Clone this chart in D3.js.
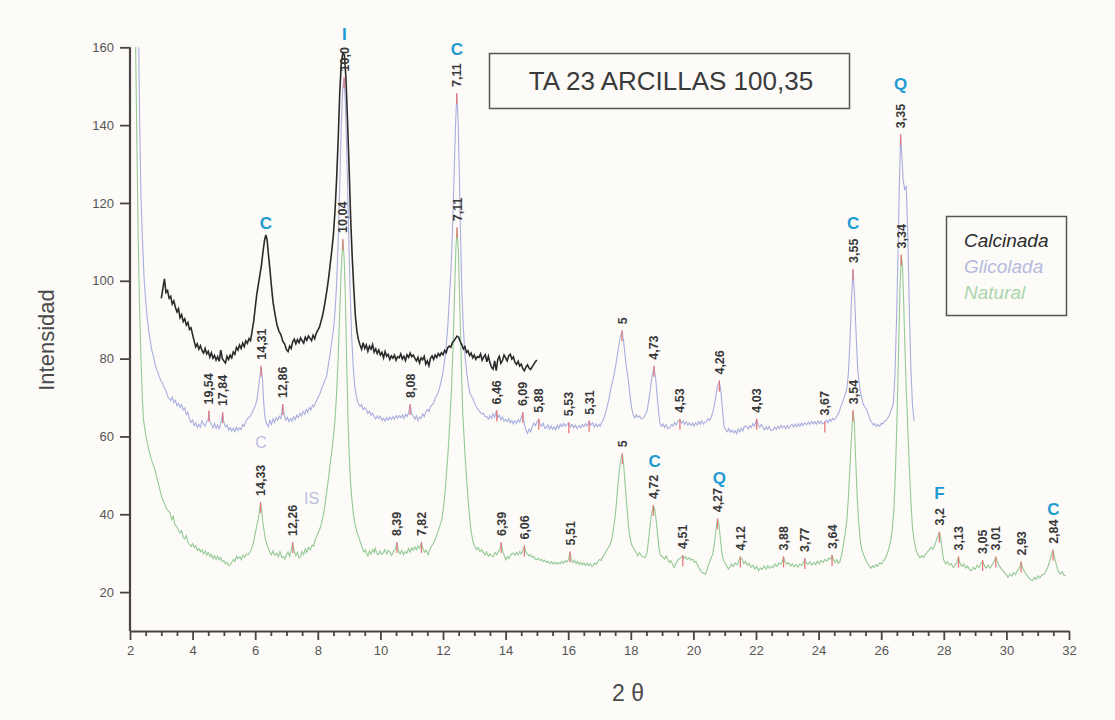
<!DOCTYPE html>
<html><head><meta charset="utf-8">
<script src="https://cdn.jsdelivr.net/npm/d3@7"></script>
<style>body{margin:0;background:#fcfbf8}svg{display:block}</style>
</head><body><svg id="c" width="1115" height="720"></svg>
<script>
// ---- data: [2θ, intensity] ----
const calcinada = [[3.0,95.5],[3.05,98],[3.1,100.5],[3.15,97],[3.2,97.5],[3.25,95.5],[3.3,96],[3.35,94],[3.4,94.8],[3.45,93.2],[3.5,92],[3.55,92.8],[3.6,90.5],[3.65,91.3],[3.7,89.5],[3.75,90.2],[3.8,88.6],[3.85,89.3],[3.9,87.5],[3.95,87.9],[4.0,86.2],[4.05,84.5],[4.1,83],[4.15,83.8],[4.2,82.4],[4.25,83.3],[4.3,82.1],[4.35,81.4],[4.4,82.6],[4.45,81.2],[4.5,81.9],[4.55,80.4],[4.6,81.5],[4.65,80.1],[4.7,80.8],[4.75,79.6],[4.8,80.5],[4.85,79.3],[4.9,82.2],[4.95,80],[5.0,79.4],[5.05,78.9],[5.1,80.6],[5.15,79.8],[5.2,80.9],[5.25,80.2],[5.3,81.7],[5.35,81.1],[5.4,82.9],[5.45,82.2],[5.5,83.5],[5.55,82.6],[5.6,84],[5.65,83.1],[5.7,84.6],[5.75,83.9],[5.8,85.1],[5.85,84.6],[5.9,87],[5.95,89.5],[6.0,93],[6.05,96.5],[6.1,99],[6.15,101.5],[6.2,104],[6.25,107.5],[6.3,110.5],[6.34,111.8],[6.38,110.5],[6.42,107],[6.47,103],[6.52,98.5],[6.57,94.5],[6.63,91.5],[6.7,88.5],[6.76,87],[6.82,86.2],[6.88,84.5],[6.94,83.8],[7.0,82.3],[7.05,81.8],[7.1,83.2],[7.15,82.6],[7.2,84.4],[7.25,85],[7.3,83.8],[7.35,84.9],[7.4,84.1],[7.45,85.3],[7.5,84.6],[7.55,84],[7.6,85.5],[7.65,84.7],[7.7,85.8],[7.75,85.2],[7.8,84.6],[7.85,86],[7.9,85.1],[7.95,86.5],[8.0,87.3],[8.05,88],[8.1,89.5],[8.15,91],[8.2,93],[8.25,95.5],[8.3,98],[8.35,101],[8.4,104.5],[8.45,108],[8.5,112],[8.55,118],[8.6,126],[8.65,136],[8.7,148],[8.75,156],[8.8,158.5],[8.85,158],[8.9,152],[8.95,141],[9.0,129],[9.05,116],[9.1,106],[9.15,98],[9.2,91],[9.25,87],[9.3,84.8],[9.35,83.5],[9.4,82.4],[9.45,84.1],[9.5,82.6],[9.55,83.5],[9.6,81.9],[9.65,83.2],[9.7,82.4],[9.75,83.6],[9.8,81.7],[9.85,82.5],[9.9,81.3],[9.95,82.2],[10.0,80.9],[10.05,81.6],[10.1,80.2],[10.15,81.8],[10.2,80.6],[10.25,81.1],[10.3,79.8],[10.35,80.7],[10.4,80.1],[10.45,80.9],[10.5,79.6],[10.55,80.5],[10.6,80.2],[10.65,81.2],[10.7,79.9],[10.75,80.6],[10.8,79.5],[10.85,81],[10.9,80.3],[10.95,81.4],[11.0,80.5],[11.05,80.9],[11.1,80.1],[11.15,79.4],[11.2,80.3],[11.25,78.9],[11.3,80.2],[11.35,79.7],[11.4,80.6],[11.45,78.6],[11.5,79.4],[11.55,78.2],[11.6,80.1],[11.65,80.7],[11.7,79.8],[11.75,80.9],[11.8,80.3],[11.85,81.3],[11.9,80.7],[11.95,81.5],[12.0,81],[12.05,82.1],[12.1,81.5],[12.15,82.8],[12.2,83.2],[12.25,82.9],[12.3,84.1],[12.35,84.6],[12.4,85.2],[12.45,85.8],[12.5,85.5],[12.55,84.4],[12.6,83.6],[12.65,82.5],[12.7,83.1],[12.75,81.6],[12.8,82],[12.85,80.8],[12.9,81.4],[12.95,80.2],[13.0,80.9],[13.05,79.8],[13.1,80.5],[13.15,80.3],[13.2,81.2],[13.25,79.6],[13.3,80.4],[13.35,81],[13.4,79.2],[13.45,80.6],[13.5,78.9],[13.55,77.8],[13.6,77.3],[13.65,79.4],[13.7,76.9],[13.75,79.8],[13.8,80.6],[13.85,78.8],[13.9,79.5],[13.95,80.9],[14.0,80.2],[14.05,79.4],[14.1,80.7],[14.15,81.1],[14.2,79.9],[14.25,80.4],[14.3,79],[14.35,78.5],[14.4,79.3],[14.45,78.1],[14.5,78.6],[14.55,77.4],[14.6,76.9],[14.65,77.8],[14.7,78.4],[14.75,77.6],[14.8,77.2],[14.85,77.9],[14.9,78.5],[14.95,79.2],[15.0,79.6]];

const glicolada = [[2.28,160],[2.31,140],[2.35,122],[2.4,110],[2.45,100.5],[2.5,95],[2.55,90.5],[2.6,87],[2.65,84.5],[2.7,82],[2.75,80.5],[2.8,78.6],[2.85,77.2],[2.9,76.3],[2.95,75],[3.0,74.2],[3.05,73.5],[3.1,72.4],[3.15,71.8],[3.2,70.3],[3.25,69.8],[3.3,69.2],[3.35,70.1],[3.4,68.7],[3.45,69.3],[3.5,67.9],[3.55,68.5],[3.6,67.4],[3.65,68.2],[3.7,66.8],[3.75,67.3],[3.8,65.6],[3.85,66.2],[3.9,64.4],[3.95,63.6],[4.0,64.2],[4.05,62.8],[4.1,63.5],[4.15,62.3],[4.2,63.1],[4.25,62.4],[4.3,64],[4.35,63.2],[4.4,62.6],[4.45,63.8],[4.5,64.5],[4.52,66.4],[4.55,63.9],[4.6,63.1],[4.65,62.2],[4.7,63.3],[4.75,62.1],[4.8,62.9],[4.85,62],[4.9,63.4],[4.96,66],[5.0,63.6],[5.05,62.5],[5.1,62.9],[5.15,61.6],[5.2,62.3],[5.25,61.4],[5.3,62.1],[5.35,61.2],[5.4,62.4],[5.45,61.5],[5.5,62.2],[5.55,61.8],[5.6,63.1],[5.65,62.6],[5.7,63.9],[5.75,64.5],[5.8,64.9],[5.85,65.3],[5.9,66.1],[5.95,67],[6.0,67.9],[6.05,69.2],[6.1,72],[6.15,75.5],[6.19,77.9],[6.23,75],[6.27,69],[6.31,65],[6.36,63.4],[6.42,62.5],[6.47,64.2],[6.52,63.1],[6.57,64.5],[6.62,63.6],[6.67,64.9],[6.72,64.1],[6.77,65.2],[6.82,64.6],[6.88,68.1],[6.93,65.3],[6.98,64.2],[7.03,64.9],[7.08,63.8],[7.13,64.6],[7.18,63.9],[7.23,65.1],[7.28,64.3],[7.33,65.5],[7.38,64.8],[7.43,66],[7.48,65.2],[7.53,66.4],[7.58,65.7],[7.63,66.9],[7.68,66.2],[7.73,67.5],[7.78,66.8],[7.83,68],[7.88,67.6],[7.93,68.8],[7.98,69.5],[8.03,70.4],[8.08,71.2],[8.13,72.5],[8.18,73.4],[8.23,74.6],[8.28,75.4],[8.33,78],[8.38,80.5],[8.43,83.5],[8.5,87.4],[8.55,92],[8.6,99],[8.65,110],[8.7,124],[8.75,140],[8.8,150],[8.84,152],[8.88,146],[8.93,132],[8.98,114],[9.03,98],[9.08,86],[9.13,78],[9.18,73],[9.24,70],[9.3,68.3],[9.35,67.7],[9.4,68.2],[9.45,66.9],[9.5,67.4],[9.56,66.8],[9.6,65.9],[9.65,66.5],[9.7,65.4],[9.75,66],[9.8,65.1],[9.85,64.5],[9.9,65.3],[9.95,64.6],[10.0,65.2],[10.05,64.1],[10.1,64.7],[10.15,63.9],[10.2,64.8],[10.25,64.2],[10.3,65],[10.35,64.3],[10.4,65.1],[10.45,64.4],[10.5,65.3],[10.55,64.7],[10.6,65.4],[10.65,64.8],[10.7,65.5],[10.75,64.6],[10.8,65.7],[10.85,65.1],[10.9,66],[10.95,68.1],[11.0,65.8],[11.05,65.2],[11.1,64.4],[11.15,65.3],[11.2,64.1],[11.25,65],[11.3,64.6],[11.35,65.8],[11.4,65.1],[11.45,66.2],[11.5,66.9],[11.55,66.4],[11.6,67.6],[11.65,68.1],[11.7,68.6],[11.75,69.8],[11.8,70.5],[11.85,71.4],[11.9,72.8],[11.95,74.5],[12.0,76.5],[12.05,79.5],[12.1,83],[12.15,88],[12.2,95],[12.25,102],[12.3,112],[12.35,126],[12.4,140],[12.44,148],[12.48,142],[12.52,128],[12.56,112],[12.6,98],[12.65,88],[12.7,81],[12.76,76.3],[12.81,73.2],[12.86,71.1],[12.92,70.2],[12.97,69.4],[13.02,68.3],[13.07,67.5],[13.13,66.8],[13.18,66.4],[13.23,65.8],[13.29,66],[13.34,65.2],[13.4,65.1],[13.45,64.4],[13.5,65.3],[13.55,64.6],[13.6,65.8],[13.65,64.9],[13.7,66.4],[13.75,64.8],[13.8,65.5],[13.85,64.3],[13.9,65],[13.95,63.9],[14.0,64.4],[14.05,63.8],[14.1,64.6],[14.15,63.5],[14.2,64.1],[14.25,63.2],[14.3,64],[14.35,63.4],[14.4,64.3],[14.45,63.7],[14.5,64.8],[14.55,66],[14.6,63.2],[14.65,61.6],[14.7,60.8],[14.75,61.9],[14.8,61.2],[14.85,62.5],[14.9,63.4],[14.95,62.8],[15.0,63.7],[15.06,64.3],[15.1,63.1],[15.15,62.6],[15.2,63.4],[15.25,62.1],[15.3,62.2],[15.35,63],[15.4,61.9],[15.45,62.7],[15.5,61.8],[15.55,62.4],[15.6,61.7],[15.65,62.9],[15.7,62.1],[15.75,63.2],[15.8,62.5],[15.85,63.4],[15.9,62.6],[15.95,63.1],[16.02,63.4],[16.07,62.4],[16.12,63.1],[16.18,62.2],[16.23,62.9],[16.29,62],[16.35,62.8],[16.4,62.2],[16.45,63.1],[16.5,62.5],[16.55,63.3],[16.6,62.7],[16.67,63.8],[16.72,62.9],[16.78,63.5],[16.83,62.4],[16.88,63.2],[16.93,62.5],[16.98,63.1],[17.02,62.6],[17.07,63.5],[17.12,64.2],[17.17,65.4],[17.22,66.8],[17.27,68.5],[17.32,70.4],[17.37,72.6],[17.42,74.2],[17.47,76],[17.52,78.3],[17.57,81],[17.62,83.5],[17.67,85.8],[17.72,87],[17.77,84.5],[17.82,80.5],[17.87,77.2],[17.92,74.5],[17.97,70.8],[18.02,67.6],[18.08,65.5],[18.13,64.8],[18.18,65.6],[18.23,64.9],[18.28,65.3],[18.33,64.5],[18.4,64.7],[18.45,65.4],[18.52,66.5],[18.58,69.5],[18.63,72.5],[18.68,75.5],[18.74,77.9],[18.79,75.2],[18.84,70.6],[18.89,66.2],[18.93,63.4],[18.98,62.6],[19.03,63.2],[19.08,62.3],[19.13,63],[19.18,62.1],[19.25,62.2],[19.3,63.1],[19.35,62.7],[19.4,63.6],[19.45,62.9],[19.5,63.8],[19.57,64.3],[19.62,63.4],[19.67,64],[19.72,63.1],[19.77,63.8],[19.82,62.9],[19.87,63.5],[19.92,62.8],[19.97,63.4],[20.02,62.6],[20.07,63.5],[20.12,62.9],[20.17,63.9],[20.22,63.1],[20.27,64],[20.32,63.2],[20.37,63.7],[20.42,63.8],[20.47,64.6],[20.52,64.1],[20.57,65],[20.62,66.2],[20.68,68.5],[20.73,71],[20.78,73.2],[20.83,74.1],[20.88,71.5],[20.93,66.8],[20.98,62.6],[21.03,61.7],[21.08,61.2],[21.13,62],[21.18,61.1],[21.23,61.6],[21.28,60.9],[21.33,61.5],[21.38,60.7],[21.43,61.9],[21.48,61.2],[21.53,62.1],[21.58,61.4],[21.63,62.6],[21.7,62.6],[21.75,61.9],[21.8,62.8],[21.85,62.2],[21.9,63.3],[21.95,62.7],[22.02,64.3],[22.07,63],[22.12,62.4],[22.17,63.1],[22.22,62.3],[22.27,61.7],[22.32,62.5],[22.37,61.8],[22.42,62.6],[22.47,61.5],[22.55,61.7],[22.6,62.4],[22.65,61.8],[22.7,62.6],[22.75,62],[22.8,62.9],[22.85,62.2],[22.9,62.7],[22.95,61.9],[23.0,62.8],[23.05,62.1],[23.09,62.6],[23.15,63.1],[23.2,62.4],[23.25,63.2],[23.3,62.5],[23.35,63.3],[23.4,62.6],[23.45,63.4],[23.5,62.8],[23.55,63.5],[23.62,63],[23.67,63.7],[23.72,63.1],[23.78,63.9],[23.83,63.2],[23.88,63.8],[23.93,63.1],[23.98,64],[24.03,63.3],[24.08,63.9],[24.13,63.2],[24.2,63.6],[24.25,64.2],[24.3,63.5],[24.35,64.4],[24.4,63.9],[24.45,64.7],[24.5,64.2],[24.55,64.8],[24.6,65.4],[24.65,66.2],[24.7,67.4],[24.75,68.5],[24.8,69.6],[24.85,70.8],[24.9,72],[24.95,76],[25.0,84],[25.05,95],[25.1,102.8],[25.15,96],[25.2,86],[25.25,77],[25.32,72],[25.37,70.2],[25.42,68.4],[25.48,67.5],[25.54,66.8],[25.6,65.4],[25.65,64.2],[25.7,63.6],[25.75,62.9],[25.8,63.3],[25.85,62.5],[25.9,63.1],[25.95,62.6],[26.0,63.4],[26.05,63.2],[26.1,63.9],[26.15,64.1],[26.2,64.6],[26.25,65.3],[26.3,66.4],[26.35,67.5],[26.39,68.6],[26.44,76],[26.49,90],[26.54,108],[26.58,125],[26.62,137.4],[26.66,132],[26.7,126],[26.75,123.5],[26.8,124.2],[26.85,112],[26.9,92],[26.95,77],[27.0,68],[27.05,64]];

const natural = [[2.18,160],[2.22,135],[2.26,112],[2.3,95],[2.35,80],[2.4,69],[2.43,64.3],[2.5,60.5],[2.58,57.4],[2.65,55],[2.72,53.2],[2.8,51.4],[2.86,49.3],[2.92,47.4],[2.97,45.8],[3.01,44.6],[3.06,43.4],[3.11,42.6],[3.16,41.5],[3.22,40.9],[3.28,40.3],[3.33,38.6],[3.38,39.5],[3.43,37.4],[3.48,36.9],[3.54,36.1],[3.6,35.2],[3.65,35.8],[3.7,34.1],[3.75,33.7],[3.8,34.5],[3.85,32.8],[3.9,32.3],[3.95,31.7],[4.0,32.4],[4.05,31.5],[4.1,31.9],[4.15,30.7],[4.2,31.2],[4.25,30.4],[4.3,30.9],[4.35,29.8],[4.4,30.6],[4.45,29.5],[4.5,30.2],[4.56,29.1],[4.6,29.7],[4.65,28.6],[4.7,29.4],[4.75,28.4],[4.8,29.2],[4.85,28.3],[4.9,28.9],[4.95,27.8],[5.0,28.1],[5.05,27.2],[5.1,27.7],[5.15,26.8],[5.2,27],[5.25,27.6],[5.3,28.4],[5.35,27.9],[5.4,29.2],[5.45,28.6],[5.51,29.1],[5.56,28.3],[5.61,29.5],[5.66,28.9],[5.71,29.7],[5.78,29.6],[5.84,30.4],[5.9,31.5],[5.94,32.6],[5.98,34.2],[6.02,35.8],[6.06,37.5],[6.1,38.6],[6.14,41],[6.17,42.9],[6.21,41],[6.25,37.5],[6.28,36],[6.33,33.4],[6.38,32.1],[6.42,31.3],[6.47,30.2],[6.52,29.6],[6.57,30.6],[6.62,29.4],[6.69,30],[6.74,29.1],[6.79,30.4],[6.85,28.9],[6.9,29.1],[6.95,28.5],[7.0,29.6],[7.05,30.3],[7.1,29.2],[7.15,30.8],[7.2,32.6],[7.25,30.5],[7.3,29.4],[7.35,30.2],[7.4,28.8],[7.45,29.1],[7.5,30.5],[7.55,29.6],[7.6,31.1],[7.65,30.2],[7.7,31.5],[7.76,30.9],[7.82,32.1],[7.87,31.8],[7.91,33.4],[7.96,34.2],[8.01,35.2],[8.06,36.1],[8.12,37.7],[8.17,39.5],[8.22,41.8],[8.28,45.4],[8.33,48.5],[8.38,52],[8.44,55.7],[8.5,60],[8.55,64.3],[8.6,71],[8.65,80],[8.7,92],[8.75,103],[8.8,110.5],[8.84,106],[8.88,96],[8.92,80],[8.96,66],[9.0,56],[9.04,49],[9.08,44.6],[9.13,40.5],[9.18,37.8],[9.24,35.8],[9.3,34.3],[9.36,32.8],[9.42,31.4],[9.48,30.3],[9.52,30.8],[9.56,30],[9.6,29.3],[9.65,30.6],[9.7,29.7],[9.75,30.9],[9.8,30.2],[9.83,31.3],[9.88,30.1],[9.93,29.5],[9.98,30.6],[10.03,29.7],[10.09,30],[10.14,30.9],[10.2,29.8],[10.25,30.7],[10.31,30.2],[10.36,29.4],[10.42,30.5],[10.48,31.1],[10.53,32.6],[10.58,30.6],[10.63,29.8],[10.68,30.7],[10.74,29.6],[10.79,30.4],[10.84,30],[10.9,31.2],[10.95,30.3],[11.0,31.4],[11.05,30.8],[11.1,31.6],[11.15,30.9],[11.2,31.8],[11.25,31.3],[11.31,32.6],[11.36,31.1],[11.41,30.2],[11.46,30.8],[11.53,29.6],[11.58,30.9],[11.63,31.8],[11.68,32.3],[11.74,33.4],[11.8,34.6],[11.85,35.8],[11.9,37],[11.96,38.6],[12.02,42],[12.07,46],[12.12,51.4],[12.17,57],[12.22,64.3],[12.27,72],[12.32,83],[12.37,97],[12.41,108],[12.45,113.5],[12.49,108],[12.53,96],[12.58,80],[12.63,66],[12.7,55.8],[12.76,48.5],[12.81,43],[12.87,37.5],[12.92,34.6],[12.97,32.6],[13.02,31.7],[13.07,30.9],[13.12,31.5],[13.18,30.4],[13.23,30.9],[13.29,30.2],[13.34,29.5],[13.39,30.3],[13.45,29.2],[13.5,29.8],[13.55,29.3],[13.61,29.1],[13.66,30.2],[13.72,29.6],[13.77,30.4],[13.82,31.1],[13.86,32.6],[13.91,30.5],[13.96,29.3],[14.01,28.3],[14.06,29.2],[14.11,28.6],[14.16,29.5],[14.2,29.9],[14.25,30],[14.3,29.4],[14.35,30.2],[14.4,29.6],[14.45,30.4],[14.5,29.8],[14.55,30.7],[14.6,31.7],[14.65,30.3],[14.7,29.8],[14.75,29.3],[14.8,29.6],[14.85,28.9],[14.9,29.2],[14.95,28.5],[14.99,28.3],[15.05,28.7],[15.1,28.1],[15.15,28.4],[15.2,27.8],[15.25,28.2],[15.3,27.6],[15.35,27.9],[15.42,27.3],[15.47,27.8],[15.52,27.2],[15.57,27.7],[15.63,27.1],[15.68,27.6],[15.74,27.3],[15.8,27.9],[15.85,27.4],[15.9,28.1],[15.95,27.7],[16.01,28.4],[16.06,30.2],[16.1,28.3],[16.15,27.6],[16.2,28.2],[16.25,27.3],[16.3,27.9],[16.35,27.1],[16.4,27.6],[16.45,27],[16.5,27.5],[16.55,26.9],[16.6,27.4],[16.65,26.8],[16.7,27.3],[16.75,26.6],[16.8,26.8],[16.85,27.5],[16.9,27.1],[16.95,27.9],[17.0,28.4],[17.05,28.1],[17.1,29],[17.17,29.8],[17.22,30.6],[17.28,31.4],[17.34,32.2],[17.4,33.8],[17.46,37],[17.52,41],[17.58,46.9],[17.63,51],[17.68,54.2],[17.73,55.4],[17.77,53],[17.82,47.5],[17.87,42.6],[17.92,37.5],[17.97,34.2],[18.02,32.3],[18.07,31.5],[18.12,30.8],[18.17,30.2],[18.22,29.3],[18.28,30.1],[18.34,29.4],[18.4,29],[18.46,28.9],[18.52,30.2],[18.57,33.5],[18.62,37.5],[18.67,40.5],[18.72,42.1],[18.76,41.5],[18.81,38.5],[18.86,34.5],[18.9,31.4],[18.93,29.8],[18.98,29.2],[19.03,28.9],[19.08,28.5],[19.13,29.3],[19.18,28.4],[19.23,27.6],[19.28,28.1],[19.33,27.2],[19.39,26.3],[19.45,27.5],[19.5,28.2],[19.56,28.6],[19.61,28.9],[19.66,29.3],[19.7,28.7],[19.75,29.1],[19.8,28.4],[19.86,28.8],[19.92,28.2],[19.98,28.5],[20.03,27.6],[20.08,27.9],[20.14,26.8],[20.2,25.9],[20.26,25.2],[20.32,24.9],[20.38,24.6],[20.44,25.8],[20.5,27.4],[20.56,28.6],[20.62,29.8],[20.67,32.5],[20.72,36],[20.77,38.7],[20.82,37.2],[20.87,33],[20.92,29.6],[20.97,28],[21.02,27.4],[21.07,26.6],[21.12,25.9],[21.17,26.5],[21.22,27.2],[21.27,26.6],[21.33,27.5],[21.39,27],[21.45,27.9],[21.5,28.9],[21.56,28.4],[21.61,27.3],[21.67,27.9],[21.72,26.9],[21.78,27.4],[21.84,26.4],[21.9,26.9],[21.96,25.9],[22.02,26.6],[22.08,25.5],[22.14,26.2],[22.2,25.8],[22.26,26.7],[22.32,25.9],[22.38,26.8],[22.44,26.1],[22.5,26.7],[22.55,26.3],[22.61,27.2],[22.67,26.6],[22.73,27.5],[22.79,27.1],[22.84,27.9],[22.88,28.9],[22.93,27.8],[22.98,27.2],[23.04,27.6],[23.1,26.7],[23.16,27.3],[23.22,26.5],[23.28,27.1],[23.34,26.4],[23.4,27.2],[23.46,26.8],[23.52,27.6],[23.56,28.5],[23.61,27.5],[23.66,27.1],[23.72,27.8],[23.78,26.9],[23.84,27.6],[23.9,27],[23.96,27.9],[24.02,27.3],[24.08,28.2],[24.14,27.6],[24.2,28.4],[24.26,27.9],[24.32,28.7],[24.38,28.5],[24.43,29.3],[24.48,28.2],[24.53,27.6],[24.58,28.3],[24.63,27.4],[24.68,27.8],[24.73,29.4],[24.78,31.5],[24.84,34.6],[24.9,38.3],[24.95,44],[25.0,52],[25.05,60],[25.1,66.5],[25.14,64],[25.18,55],[25.23,45],[25.28,38],[25.33,33.4],[25.38,30.8],[25.44,29.6],[25.5,28.4],[25.56,27.5],[25.62,26.6],[25.67,26.1],[25.72,26.8],[25.77,26.3],[25.83,27.1],[25.89,26.6],[25.95,27.5],[26.01,27.2],[26.07,28],[26.13,28.6],[26.19,29.8],[26.25,31.3],[26.31,33.5],[26.36,36.6],[26.41,42],[26.46,52],[26.51,66],[26.56,84],[26.6,98],[26.64,106.5],[26.68,104],[26.72,94],[26.76,82],[26.8,72],[26.85,62],[26.9,52],[26.95,43],[27.0,36.5],[27.06,33],[27.12,30.6],[27.18,29.5],[27.24,28.8],[27.3,29.4],[27.35,28.9],[27.41,29.6],[27.47,30.3],[27.53,30.8],[27.59,31.5],[27.65,31],[27.7,31.9],[27.76,33.2],[27.82,34.6],[27.86,35.3],[27.9,34],[27.95,30.6],[28.0,28.2],[28.06,27.2],[28.12,27.8],[28.18,26.9],[28.24,27.3],[28.3,26.3],[28.36,26.9],[28.42,27.8],[28.47,28.9],[28.52,27.4],[28.58,26.6],[28.64,27.2],[28.7,26.2],[28.76,26.7],[28.82,25.8],[28.88,25.5],[28.94,26.4],[29.0,25.8],[29.06,26.9],[29.12,26.3],[29.18,27.2],[29.24,28],[29.3,26.8],[29.36,26.1],[29.42,26.9],[29.48,26.2],[29.54,27],[29.6,27.8],[29.66,28.9],[29.71,27.7],[29.77,26.8],[29.83,26.1],[29.89,25.5],[29.95,24.8],[30.01,24.4],[30.05,23.8],[30.11,24.6],[30.17,24.1],[30.23,25],[30.29,24.5],[30.35,25.5],[30.41,26.1],[30.47,27.6],[30.53,26],[30.59,25.1],[30.65,24.4],[30.71,23.7],[30.77,23.2],[30.83,22.9],[30.89,23.8],[30.95,23.3],[31.01,24.2],[31.07,23.6],[31.13,24.4],[31.2,24.6],[31.26,25.3],[31.32,26.4],[31.38,27.8],[31.44,29.6],[31.49,30.6],[31.54,29],[31.6,26.8],[31.66,25.3],[31.72,24.6],[31.78,25.2],[31.84,24.3],[31.9,24.2]];

// peak labels (d-spacing text, 2θ, intensity at peak)
const glicPeaks = [["19,54",4.52,66.4],["17,84",4.96,66],["14,31",6.19,77.9],["12,86",6.88,68.1],["10,0",8.84,152],["8,08",10.95,68.1],["7,11",12.44,148],["6,46",13.72,66.4],["6,09",14.55,66],["5,88",15.06,64.3],["5,53",16.02,63.4],["5,31",16.67,63.8],["5",17.72,87],["4,73",18.74,77.9],["4,53",19.57,64.3],["4,26",20.83,74.1],["4,03",22.02,64.3],["3,67",24.2,63.6],["3,55",25.1,102.8],["3,35",26.62,137.4]];
const natPeaks = [["14,33",6.17,42.9],["12,26",7.2,32.6],["10,04",8.8,110.5],["8,39",10.53,32.6],["7,82",11.31,32.6],["7,11",12.45,113.5],["6,39",13.86,32.6],["6,06",14.6,31.7],["5,51",16.06,30.2],["5",17.73,55.4],["4,72",18.72,42.1],["4,51",19.66,29.3],["4,27",20.77,38.7],["4,12",21.5,28.9],["3,88",22.88,28.9],["3,77",23.56,28.5],["3,64",24.43,29.3],["3,54",25.1,66.5],["3,34",26.64,106.5],["3,2",27.86,35.3],["3,13",28.47,28.9],["3,05",29.24,28],["3,01",29.66,28.9],["2,93",30.47,27.6],["2,84",31.49,30.6]];

// mineral letters (letter, 2θ, intensity level)
const minerals = [["I",8.85,163.7],["C",12.44,159.8],["C",6.34,115.1],["C",25.1,115.1],["Q",26.62,150.8],["C",18.76,54],["Q",20.83,49.6],["F",27.86,45.8],["C",31.5,41.7]];
const mineralsFaint = [["C",6.19,58.6],["IS",7.8,44.2]];

const xTicks = [2,4,6,8,10,12,14,16,18,20,22,24,26,28,30,32];
const yTicks = [20,40,60,80,100,120,140,160];
const seriesNames = ["Calcinada","Glicolada","Natural"];
const titleText = "TA 23 ARCILLAS 100,35";

// ---- drawing ----
const svg = d3.select("#c");
const x = d3.scaleLinear().domain([2,32]).range([130,1069]);
const y = d3.scaleLinear().domain([10,160]).range([631,47.3]);
const col = {cal:"#2b2b2b", gli:"#a9aedd", nat:"#95c995", red:"#e57878", blue:"#1f9ad2", faint:"#bcc0de"};
const FONT = "Liberation Sans, Arial, sans-serif";

svg.append("rect").attr("width",1115).attr("height",720).attr("fill","#fcfbf8");

svg.append("clipPath").attr("id","clip").append("rect")
  .attr("x",130).attr("y",40).attr("width",939).attr("height",591);

const line = d3.line().x(d=>x(d[0])).y(d=>y(d[1]));
const g = svg.append("g").attr("clip-path","url(#clip)");
g.append("path").datum(natural).attr("d",line).attr("fill","none").attr("stroke",col.nat).attr("stroke-width",1.1);
g.append("path").datum(glicolada).attr("d",line).attr("fill","none").attr("stroke",col.gli).attr("stroke-width",1.1);
g.append("path").datum(calcinada).attr("d",line).attr("fill","none").attr("stroke",col.cal).attr("stroke-width",1.6);

// peak markers and labels
function peakLabels(arr){
  const gg = svg.append("g");
  gg.selectAll("line").data(arr).join("line")
    .attr("x1",d=>x(d[1])).attr("x2",d=>x(d[1]))
    .attr("y1",d=>y(d[2])-1).attr("y2",d=>y(d[2])+10)
    .attr("stroke",col.red).attr("stroke-width",1.3);
  gg.selectAll("text").data(arr).join("text")
    .attr("transform",d=>`translate(${x(d[1])+4.5},${y(d[2])-7}) rotate(-90)`)
    .attr("font-family",FONT)
    .attr("font-size",12.5).attr("font-weight","bold").attr("fill","#383838")
    .text(d=>d[0]);
}
peakLabels(glicPeaks);
peakLabels(natPeaks);

svg.append("g").selectAll("text").data(minerals).join("text")
  .attr("x",d=>x(d[1])).attr("y",d=>y(d[2])+7)
  .attr("text-anchor","middle").attr("font-family",FONT).attr("font-weight","bold")
  .attr("font-size",17).attr("fill",col.blue).text(d=>d[0]);
svg.append("g").selectAll("text").data(mineralsFaint).join("text")
  .attr("x",d=>x(d[1])).attr("y",d=>y(d[2])+6)
  .attr("text-anchor","middle").attr("font-family",FONT)
  .attr("font-size",16).attr("fill",col.faint).text(d=>d[0]);

// axes
const axisColor = "#4a4444";
const ya = svg.append("g").attr("transform","translate(130,0)")
  .call(d3.axisLeft(y).tickValues(yTicks).tickSize(10).tickPadding(6).tickSizeOuter(0));
ya.select(".domain").attr("d",`M0,${y(160)}V${y(10)}`);
const xa = svg.append("g").attr("transform","translate(0,631)")
  .call(d3.axisBottom(x).tickValues(xTicks).tickSize(9).tickPadding(6).tickSizeOuter(0));
const minor = d3.range(2.5,32,0.5).filter(v=>v%2!==0);
svg.append("g").attr("transform","translate(0,631)")
  .call(d3.axisBottom(x).tickValues(minor).tickSize(5).tickFormat("")).select(".domain").remove();
svg.selectAll(".domain").attr("stroke",axisColor).attr("stroke-width",2.2);
svg.selectAll(".tick line").attr("stroke",axisColor).attr("stroke-width",1.8);
svg.selectAll(".tick text").attr("font-family",FONT).attr("font-size",13).attr("fill","#555");

svg.append("text").attr("transform","translate(54,340) rotate(-90)")
  .attr("text-anchor","middle").attr("font-family",FONT)
  .attr("font-size",22).attr("fill","#4a4a4a").text("Intensidad");
svg.append("text").attr("x",628).attr("y",701)
  .attr("text-anchor","middle").attr("font-family",FONT)
  .attr("font-size",23).attr("fill","#4a4a4a").text("2 θ");

// title box
svg.append("rect").attr("x",489.5).attr("y",53.5).attr("width",360).attr("height",55)
  .attr("fill","none").attr("stroke","#555").attr("stroke-width",1.5);
svg.append("text").attr("x",671).attr("y",90).attr("text-anchor","middle")
  .attr("font-family",FONT).attr("font-size",26).attr("fill","#3a3a3a").text(titleText);

// legend
svg.append("rect").attr("x",946.5).attr("y",216.5).attr("width",120).attr("height",99)
  .attr("fill","none").attr("stroke","#555").attr("stroke-width",1.5);
const legColors = [col.cal,"#b6b9de","#abd6ab"];
svg.append("g").selectAll("text").data(seriesNames).join("text")
  .attr("x",964).attr("y",(d,i)=>247+i*26)
  .attr("font-family",FONT).attr("font-style","italic")
  .attr("font-size",19).attr("fill",(d,i)=>legColors[i]).text(d=>d);
</script></body></html>
